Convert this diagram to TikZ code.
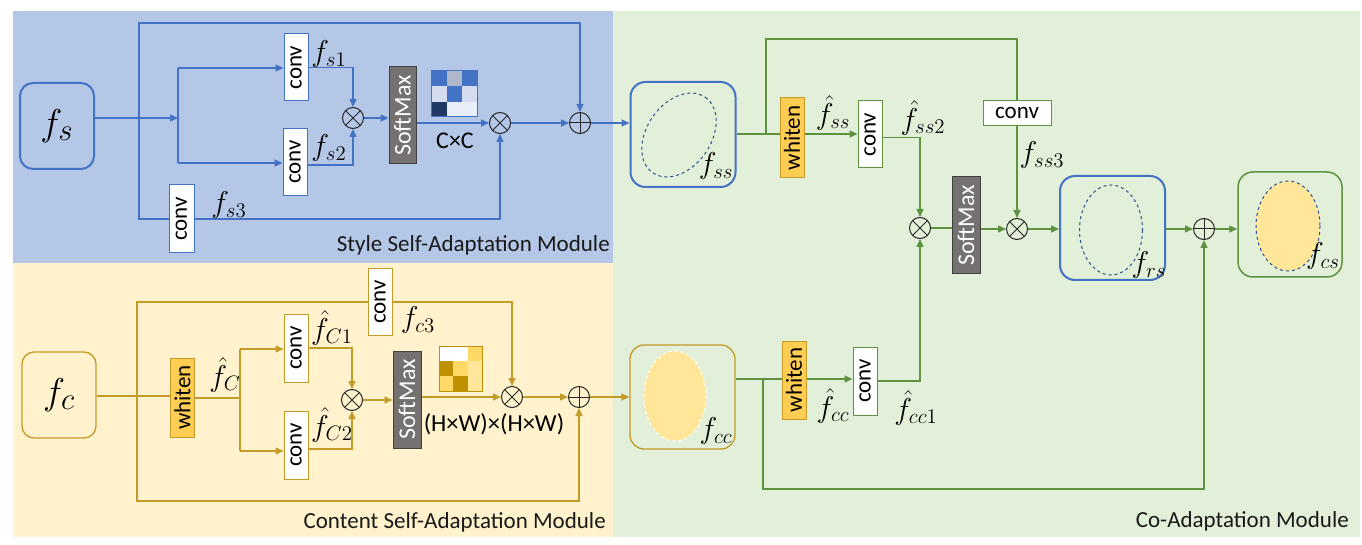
\RequirePackage{fix-cm}
\documentclass[tikz,border=0pt]{standalone}
\usepackage{fontspec}
\setmainfont{Carlito}
\usepackage{graphicx}
\usetikzlibrary{arrows.meta,calc}
\definecolor{bgB}{HTML}{B4C7E7}
\definecolor{bgY}{HTML}{FFF2CC}
\definecolor{bgG}{HTML}{E2F0D9}
\definecolor{cB}{HTML}{4472C4}
\definecolor{cY}{HTML}{C49A28}
\definecolor{cG}{HTML}{5E9140}
\definecolor{smg}{HTML}{767171}
\definecolor{whf}{HTML}{FFCD52}
\definecolor{ell}{HTML}{FFE699}
\definecolor{eld}{HTML}{2F4F8F}
\definecolor{mA}{HTML}{4472C4}
\definecolor{mB}{HTML}{ADB9CA}
\definecolor{mC}{HTML}{D6DCF0}
\definecolor{mD}{HTML}{203864}
\definecolor{mE}{HTML}{E9EDF7}
\definecolor{yA}{HTML}{BF9000}
\definecolor{yB}{HTML}{FFD966}
\definecolor{yC}{HTML}{FFE699}
\newcommand{\ml}[1]{\scalebox{1.45}{$#1$}}
\newcommand{\mbig}[1]{\scalebox{1.5}{$#1$}}
\begin{document}
\begin{tikzpicture}[x=1pt,y=-1pt,
  ar/.style={-{Triangle[length=8pt,width=7pt]}},
  lnB/.style={draw=cB,line width=1.3pt},
  lnY/.style={draw=cY,line width=1.3pt},
  lnG/.style={draw=cG,line width=1.3pt},
  bx/.style={rectangle,inner sep=0pt,font=\fontsize{23}{27}\selectfont},
  convB/.style={bx,draw=cB,fill=white,line width=1pt,minimum width=24pt,minimum height=67pt},
  convY/.style={bx,draw=cY,fill=white,line width=1pt,minimum width=24pt,minimum height=67pt},
  convG/.style={bx,draw=cG,fill=white,line width=1pt,minimum width=24pt,minimum height=67pt},
  smx/.style={bx,draw=black!75,fill=smg,text=white,line width=1pt,minimum width=28pt,minimum height=97pt,font=\fontsize{24}{28}\selectfont},
  whY/.style={bx,draw=cY,fill=whf,line width=1pt,minimum width=24pt,minimum height=79pt},
  opc/.style={circle,draw=black!85,line width=1pt,minimum size=21pt,inner sep=0pt},
  otm/.style={opc,path picture={\draw[black!85,line width=1pt]
     (path picture bounding box.south west)--(path picture bounding box.north east)
     (path picture bounding box.north west)--(path picture bounding box.south east);}},
  opl/.style={opc,path picture={\draw[black!85,line width=1pt]
     (path picture bounding box.south)--(path picture bounding box.north)
     (path picture bounding box.west)--(path picture bounding box.east);}},
  lab/.style={inner sep=0pt,font=\fontsize{20.74}{24}\selectfont},
  ttl/.style={inner sep=0pt,font=\fontsize{23}{27}\selectfont,text=black!90},
  bigf/.style={font=\fontsize{24.88}{30}\selectfont}
]
\useasboundingbox (0,0) rectangle (1362,545);
\fill[white] (0,0) rectangle (1362,545);
% backgrounds
\fill[bgB] (13,11) rectangle (613,263);
\fill[bgY] (13,263) rectangle (613,537);
\fill[bgG] (613,11) rectangle (1360,537);

% ================= Style self-adaptation =================
\node[bx,draw=cB,line width=2pt,rounded corners=13pt,minimum width=74pt,minimum height=86pt,bigf] (fs) at (57,126) {\mbig{f_s}};
\node[convB] (c1) at (296,67.5) {\rotatebox{90}{conv}};
\node[convB] (c2) at (295,162) {\rotatebox{90}{conv}};
\node[convB,minimum width=25pt,minimum height=68pt] (c3) at (181.5,219) {\rotatebox{90}{conv}};
\node[otm] (ot1) at (353,118) {};
\node[smx,minimum width=27pt] (sm1) at (402.5,115.5) {\rotatebox{90}{SoftMax}};
\node[otm] (ot2) at (500,123) {};
\node[opl] (op1) at (580,123) {};
\node[lab] (ls1) at (329,54) {\ml{f_{s1}}};
\node[lab] (ls2) at (329,148) {\ml{f_{s2}}};
\node[lab] (ls3) at (229,205) {\ml{f_{s3}}};
\node[bx,font=\fontsize{24}{28}\selectfont] (lcc) at (455,141) {C×C};
\node[ttl,anchor=east] (t1) at (610,245) {Style Self-Adaptation Module};
% matrix 1
\begin{scope}[shift={(431,71)}]
\fill[mA] (0,0) rectangle (15.5,15.3);
\fill[mB] (15.5,0) rectangle (31,15.3);
\fill[mA] (31,0) rectangle (46.5,15.3);
\fill[mC] (0,15.3) rectangle (15.5,30.6);
\fill[mA] (15.5,15.3) rectangle (31,30.6);
\fill[mC] (31,15.3) rectangle (46.5,30.6);
\fill[mD] (0,30.6) rectangle (15.5,46);
\fill[mE] (15.5,30.6) rectangle (46.5,46);
\draw[cB,line width=1pt] (0,0) rectangle (46.5,46);
\end{scope}

\coordinate (sA) at (139,118);
\coordinate (sB) at (178,118);
\coordinate (sT) at (139,23);
\coordinate (b1) at (178,68);
\coordinate (b2) at (178,163);
\draw[lnB,ar] (fs.east |- sB) -- (sB);
\draw[lnB] (b1) -- (b2);
\draw[lnB,ar] (b1) -- (b1 -| c1.west);
\draw[lnB,ar] (b2) -- (b2 -| c2.west);
\draw[lnB,ar] (c1.east) -| (ot1);
\draw[lnB,ar] ($(c2.east)+(0,3)$) -| (ot1);
\draw[lnB,ar] (ot1) -- (ot1 -| sm1.west);
\draw[lnB,ar] (sm1.east |- ot2) -- (ot2);
\draw[lnB,ar] (ot2) -- (op1);
\draw[lnB,ar] (sA) -- (sT) -| (op1);
\draw[lnB] (sA) |- (c3.west);
\draw[lnB,ar] (c3.east) -| (ot2);

% ================= Content self-adaptation =================
\node[bx,draw=cY,line width=1.3pt,rounded corners=12pt,minimum width=74pt,minimum height=86pt,bigf] (fc) at (59,395) {\mbig{f_c}};
\node[whY] (wh1) at (182.5,397.5) {\rotatebox{90}{whiten}};
\node[convY,minimum height=68pt] (cc1) at (296,348) {\rotatebox{90}{conv}};
\node[convY,minimum height=68pt] (cc2) at (296,445) {\rotatebox{90}{conv}};
\node[convY] (cc3) at (380,302) {\rotatebox{90}{conv}};
\node[otm] (ot3) at (352,400) {};
\node[smx] (sm2) at (407,399.5) {\rotatebox{90}{SoftMax}};
\node[otm] (ot4) at (512,397) {};
\node[opl] (op2) at (579,397) {};
\node[lab] (lc) at (225,375) {\ml{\hat{f}_{C}}};
\node[lab] (lc1) at (332,328) {\ml{\hat{f}_{C1}}};
\node[lab] (lc2) at (332,425) {\ml{\hat{f}_{C2}}};
\node[lab] (lc3) at (418,320) {\ml{f_{c3}}};
\node[bx,font=\fontsize{24.5}{28}\selectfont] (lhw) at (494,424) {(H×W)×(H×W)};
\node[ttl,anchor=east] (t2) at (606,522) {Content Self-Adaptation Module};
% matrix 2
\begin{scope}[shift={(439,346)}]
\fill[white] (0,0) rectangle (28.7,15);
\fill[yB] (28.7,0) rectangle (43,15);
\fill[yA] (0,15) rectangle (14.3,30);
\fill[yB] (14.3,15) rectangle (28.7,30);
\fill[yC] (28.7,15) rectangle (43,30);
\fill[yB] (0,30) rectangle (14.3,45);
\fill[yA] (14.3,30) rectangle (28.7,45);
\fill[yC] (28.7,30) rectangle (43,45);
\draw[yA,line width=1pt] (0,0) rectangle (43,45);
\end{scope}

\coordinate (cA) at (137,396);
\coordinate (cT) at (137,302);
\coordinate (cBt) at (137,501);
\coordinate (cB) at (240,398);
\coordinate (cb1) at (240,349);
\coordinate (cb2) at (240,451);
\draw[lnY] (fc.east |- cA) -- (wh1.west |- cA);
\draw[lnY] (wh1.east |- cB) -- (cB);
\draw[lnY] (cb1) -- (cb2);
\draw[lnY,ar] (cb1) -- (cb1 -| cc1.west);
\draw[lnY,ar] (cb2) -- (cb2 -| cc2.west);
\draw[lnY,ar] (cc1.east) -| (ot3);
\draw[lnY,ar] ($(cc2.east)+(0,4)$) -| (ot3);
\draw[lnY,ar] (ot3) -- (ot3 -| sm2.west);
\draw[lnY,ar] (sm2.east |- ot4) -- (ot4);
\draw[lnY,ar] (ot4) -- (op2);
\draw[lnY] (cA) |- (cc3.west);
\draw[lnY,ar] (cc3.east) -| (ot4);
\draw[lnY,ar] (cA) -- (cBt) -| (op2);

% ================= Co-adaptation =================
\node[bx,draw=cB,line width=2pt,rounded corners=15pt,minimum width=105pt,minimum height=105pt] (fss) at (683,134.5) {};
\draw[eld,dashed,line width=1pt,rotate around={55:(679,135)}] (679,135) ellipse [x radius=46, y radius=32];
\node[lab] (lss) at (716,166) {\ml{f_{ss}}};
\node[bx,draw=cY,line width=1.3pt,rounded corners=14pt,minimum width=105pt,minimum height=104pt] (fcc) at (682.5,397) {};
\draw[white,dashed,fill=ell,line width=1pt] (675,396) ellipse [x radius=31, y radius=45];
\node[lab] (lcc2) at (716,431) {\ml{f_{cc}}};
\node[bx,draw=cB,line width=2pt,rounded corners=15pt,minimum width=105pt,minimum height=104pt] (frs) at (1112.5,228) {};
\draw[eld,dashed,line width=1pt] (1111,230) ellipse [x radius=31.5, y radius=45];
\node[lab] (lrs) at (1149,265) {\ml{f_{rs}}};
\node[bx,draw=cG,line width=1.5pt,rounded corners=15pt,minimum width=104pt,minimum height=105pt] (fcs) at (1290,224.5) {};
\draw[eld,dashed,fill=ell,line width=1pt] (1288,226) ellipse [x radius=32, y radius=45];
\node[lab] (lcs) at (1323,256) {\ml{f_{cs}}};

\node[whY,minimum height=80pt] (wh3) at (792,138) {\rotatebox{90}{whiten}};
\node[convG] (css2) at (870,134.5) {\rotatebox{90}{conv}};
\node[bx,draw=cG,fill=white,line width=1pt,minimum width=68pt,minimum height=25pt] (css3) at (1017,113.5) {conv};
\node[whY,minimum height=78pt] (wh4) at (794,380) {\rotatebox{90}{whiten}};
\node[convG,minimum height=68pt] (ccc1) at (865,381) {\rotatebox{90}{conv}};
\node[otm] (ot5) at (920,228) {};
\node[smx] (sm3) at (966,225.5) {\rotatebox{90}{SoftMax}};
\node[otm] (ot6) at (1017,229) {};
\node[opl] (op3) at (1204,229) {};
\node[lab] (lhss) at (833,113) {\ml{\hat{f}_{ss}}};
\node[lab] (lhss2) at (923,118) {\ml{\hat{f}_{ss2}}};
\node[lab] (lss3) at (1042,155) {\ml{f_{ss3}}};
\node[lab] (lhcc) at (833,406) {\ml{\hat{f}_{cc}}};
\node[lab] (lhcc1) at (916,408) {\ml{\hat{f}_{cc1}}};
\node[ttl,anchor=east] (t3) at (1349,521) {Co-Adaptation Module};

\draw[lnB,ar] (op1) -- (op1 -| fss.west);
\draw[lnY,ar] (op2) -- (op2 -| fcc.west);

\coordinate (gA) at (766,134);
\coordinate (gT) at (766,39);
\coordinate (gB) at (763,379);
\coordinate (gBb) at (763,489);
\draw[lnG] (fss.east |- gA) -- (wh3.west |- gA);
\draw[lnG,ar] (wh3.east |- gA) -- (gA -| css2.west);
\draw[lnG] (gA) -- (gT) -| (css3.north);
\draw[lnG,ar] (css3) -- (ot6);
\draw[lnG,ar] ($(css2.east)+(0,3)$) -| (ot5);
\draw[lnG] (ot5) -- (ot5 -| sm3.west);
\draw[lnG,ar] (sm3.east |- ot6) -- (ot6);
\draw[lnG,ar] (ot6) -- (ot6 -| frs.west);
\draw[lnG,ar] (frs.east |- op3) -- (op3);
\draw[lnG,ar] (op3) -- (op3 -| fcs.west);
\draw[lnG] (fcc.east |- gB) -- (wh4.west |- gB);
\draw[lnG,ar] (wh4.east |- gB) -- (gB -| ccc1.west);
\draw[lnG,ar] (gB) -- (gBb) -| (op3);
\draw[lnG,ar] (ccc1.east) -| (ot5);
\end{tikzpicture}
\end{document}
